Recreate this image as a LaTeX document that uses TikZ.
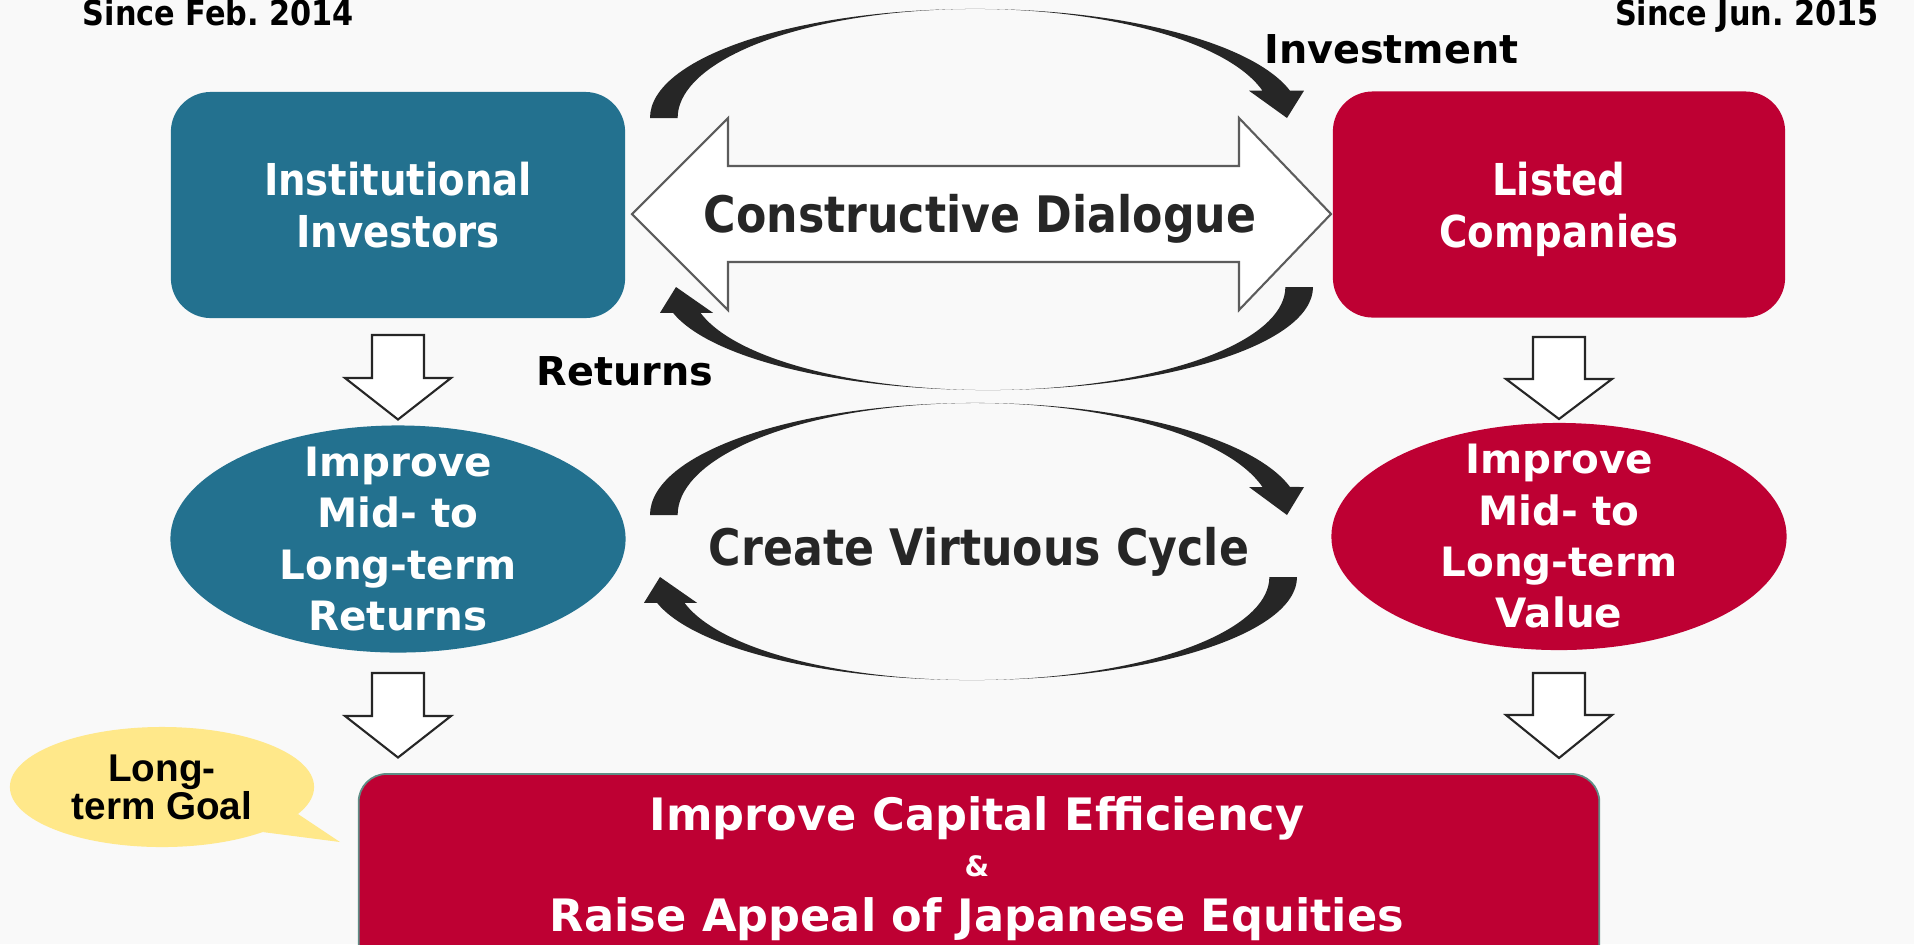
\documentclass[tikz,border=0pt]{standalone}
\usepackage{fontspec}
\usetikzlibrary{shapes.geometric}

\newfontfamily\verd{DejaVu Sans}
\newfontfamily\tah{DejaVu Sans}[FakeStretch=0.88]
\newfontfamily\arial{Liberation Sans}

\definecolor{bgray}{HTML}{F9F9F9}
\definecolor{fsateal}{HTML}{23718F}
\definecolor{fsared}{HTML}{BE0033}
\definecolor{curldark}{HTML}{262626}
\definecolor{outline}{HTML}{5C5C5C}
\definecolor{bubbleyellow}{HTML}{FFE88A}
\definecolor{rim}{HTML}{5E8E86}

\begin{document}
\begin{tikzpicture}[
    x=0.01cm, y=-0.01cm,
    box/.style={rectangle, rounded corners=0.4cm, minimum width=4.54cm, minimum height=2.26cm,
        inner sep=0pt, text=white, align=center, font=\tah\bfseries\fontsize{12.5}{14.7}\selectfont},
    goal/.style={ellipse, minimum width=4.55cm, minimum height=2.27cm, inner sep=0pt},
    goaltext/.style={text=white, align=center, font=\verd\bfseries\fontsize{11.5}{14.6}\selectfont},
    bigtext/.style={anchor=base, text=curldark, font=\tah\bfseries\fontsize{14.3}{17}\selectfont},
    flowtext/.style={anchor=base, text=black, font=\verd\bfseries\fontsize{11.3}{13}\selectfont},
    datetext/.style={anchor=base, text=black, font=\tah\bfseries\fontsize{9.8}{11}\selectfont},
    finaltext/.style={anchor=base, text=white, font=\verd\bfseries\fontsize{12.7}{15}\selectfont},
    bendarrow/.style={fill=curldark},
    downarrow/.style={draw=curldark, fill=white, line width=0.6pt, line join=miter},
    dialogarrow/.style={draw=outline, fill=white, line width=0.6pt, line join=miter}
]

% Background
\fill[bgray] (0,0) rectangle (1914,944);
\useasboundingbox (0,0) rectangle (1914,944);
\clip (0,0) rectangle (1914,944);

% Dates
\node[datetext] (since2014) at (218.5,25) {Since Feb.\ 2014};
\node[datetext] (since2015) at (1747,25) {Since Jun.\ 2015};

% Top boxes
\node[box, fill=fsateal] (investors) at (398,205) {Institutional\\Investors};
\node[box, fill=fsared, minimum width=4.52cm] (companies) at (1559,204.5) {Listed\\\smash{Companies}};

% Constructive dialogue
\draw[dialogarrow] (632,214) -- (728,118) -- (728,166) -- (1239,166) -- (1239,118) -- (1331,214)
    -- (1239,310) -- (1239,262) -- (728,262) -- (728,310) -- cycle;
\node[bigtext] (dialogue) at (980,232.7) {Constructive Dialogue};

% Investment and returns
\fill[bendarrow] (650,118) arc[start angle=180, end angle=14.5, x radius=3.25cm, y radius=1.09cm]
    -- (1304,90.7) -- (1287,118) -- (1249,90.7) -- (1262.5,90.7)
    arc[start angle=14.5, end angle=180, x radius=2.97cm, y radius=1.09cm] -- cycle;
\fill[bendarrow] (1313,287) arc[start angle=0, end angle=-165.5, x radius=3.25cm, y radius=1.03cm]
    -- (660,312.8) -- (676,287) -- (713,312.8) -- (700.5,312.8)
    arc[start angle=-165.5, end angle=0, x radius=2.97cm, y radius=1.03cm] -- cycle;
\node[flowtext] (invest) at (1391.5,63.3) {Investment};
\node[flowtext] (returns) at (625,385) {Returns};

% Down arrows to the goals
\draw[downarrow] (372,335) -- ++(52,0) -- ++(0,43) -- ++(27,0) -- ++(-53,41.5) -- ++(-53,-41.5) -- ++(27,0) -- cycle;
\draw[downarrow] (1533,337) -- ++(52,0) -- ++(0,42) -- ++(27,0) -- ++(-53,40) -- ++(-53,-40) -- ++(27,0) -- cycle;

% Goals
\node[goal, fill=fsateal] (investgoal) at (398,539) {};
\node[goaltext] (investgoaltext) at (investgoal) {Improve\\Mid- to\\Long-term\\Returns};
\node[goal, fill=fsared] (companygoal) at (1559,536.5) {};
\node[goaltext] (companygoaltext) at (companygoal) {Improve\\Mid- to\\Long-term\\Value};

% Virtuous cycle
\fill[bendarrow] (650,515) arc[start angle=180, end angle=14.5, x radius=3.25cm, y radius=1.12cm]
    -- (1304,487) -- (1287,515) -- (1249,487) -- (1262.5,487)
    arc[start angle=14.5, end angle=180, x radius=2.97cm, y radius=1.12cm] -- cycle;
\fill[bendarrow] (1297,577) arc[start angle=0, end angle=-165.5, x radius=3.25cm, y radius=1.03cm]
    -- (644,602.8) -- (660,577) -- (697,602.8) -- (684.5,602.8)
    arc[start angle=-165.5, end angle=0, x radius=2.97cm, y radius=1.03cm] -- cycle;
\node[bigtext] (cycle) at (979,565.7) {Create Virtuous Cycle};

% Down arrows to the final goal
\draw[downarrow] (372,673) -- ++(52,0) -- ++(0,43) -- ++(27,0) -- ++(-53,41.5) -- ++(-53,-41.5) -- ++(27,0) -- cycle;
\draw[downarrow] (1533,673) -- ++(52,0) -- ++(0,42) -- ++(27,0) -- ++(-53,43) -- ++(-53,-43) -- ++(27,0) -- cycle;

% Final goal
\node[rectangle, rounded corners=0.28cm, fill=fsared, draw=rim, line width=0.5pt,
    minimum width=12.4cm, minimum height=2.06cm] (capital) at (979,877) {};
\node[finaltext] (capitalline) at (977,830) {Improve Capital Efficiency};
\node[finaltext, font=\verd\bfseries\fontsize{8}{9}\selectfont] (capitalamp) at (977,876) {\&};
\node[finaltext] (appealline) at (977,931.7) {Raise Appeal of Japanese Equities};

% Long-term goal bubble
\fill[bubbleyellow] (298,814) -- (340,842) -- (262.5,832) -- cycle;
\node[ellipse, fill=bubbleyellow, minimum width=3.04cm, minimum height=1.2cm, inner sep=0pt] (goalbubble) at (162,787) {};
\node[align=center, font=\arial\bfseries\fontsize{11}{10.8}\selectfont] (goalnote) at (goalbubble) {Long-\\term Goal};

\end{tikzpicture}
\end{document}
